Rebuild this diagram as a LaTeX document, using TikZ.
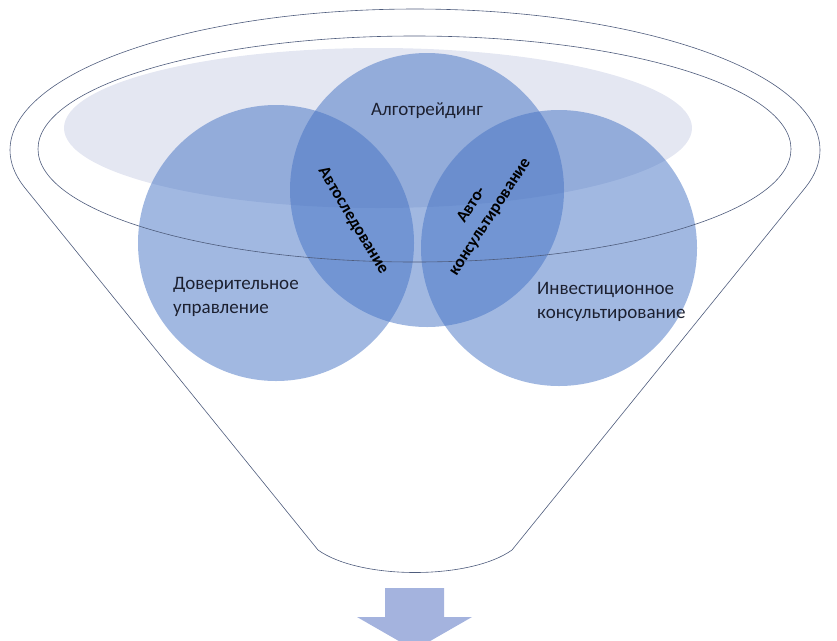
\documentclass[tikz,border=0pt]{standalone}
\usepackage{fontspec}
\setmainfont{Carlito}
\definecolor{rimcol}{RGB}{78,92,124}
\definecolor{bubblecol}{RGB}{68,114,196}
\definecolor{paleell}{RGB}{228,231,242}
\definecolor{arrowcol}{RGB}{164,179,222}
\definecolor{txtcol}{RGB}{28,32,48}
\begin{document}
\begin{tikzpicture}[x=1pt,y=-1pt,
  funnelline/.style={draw=rimcol, line width=0.6pt},
  bubble/.style={circle, fill=bubblecol, fill opacity=0.5, inner sep=0pt, draw=none},
  lbl/.style={font=\fontsize{19}{24.5}\selectfont, text=txtcol, inner sep=0pt},
  rotlbl/.style={font=\bfseries\fontsize{17}{22}\selectfont, text=black, inner sep=0pt}]
\useasboundingbox (0,0) rectangle (837,640);
\clip (0,0) rectangle (837,640);
% pale ellipse behind
\fill[paleell] (378,128) ellipse [x radius=314pt, y radius=80pt];
% circles
\node[bubble, minimum size=274pt] (algo) at (427,190) {};
\node[bubble, minimum size=276pt] (dover) at (276,243) {};
\node[bubble, minimum size=276pt] (invest) at (559,248) {};
% funnel
\coordinate (fbr) at (512,550);
\coordinate (fbl) at (318,550);
\draw[funnelline] (fbr) -- plot[domain=-15.6:195.6, samples=150] ({415+405*cos(\x)},{150-141*sin(\x)}) -- (fbl) .. controls (360,580) and (470,580) .. (fbr);
\draw[funnelline] (414.5,149) ellipse [x radius=376.5pt, y radius=113pt];
% arrow
\fill[arrowcol] (385,588) -- (444,588) -- (444,617) -- (472,617) -- (414.5,650) -- (357,617) -- (385,617) -- cycle;
% labels
\node[lbl] (algt) at (427,111) {Алготрейдинг};
\node[lbl, align=left, anchor=west] (dovt) at (173,297) {Доверительное\\управление};
\node[lbl, align=left, anchor=west] (invt) at (537,302) {Инвестиционное\\консультирование};
\node[rotlbl, rotate=-59] (avs) at (353,221) {Автоследование};
\node[rotlbl, rotate=57, align=center] (avk) at (481,211) {Авто-\\консультирование};
\end{tikzpicture}
\end{document}
